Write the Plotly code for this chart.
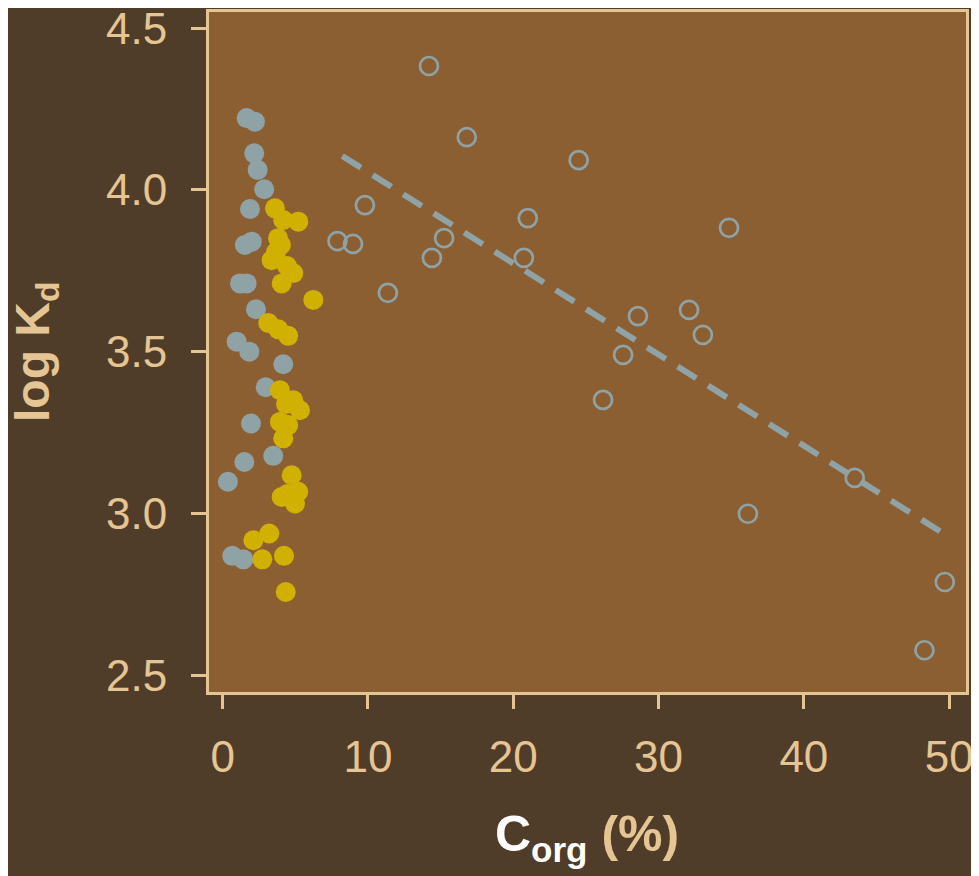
import plotly.graph_objects as go

# Filled blue-grey points (Corg %, log Kd)
blue_x = [1.65, 2.22, 2.17, 2.41, 2.86, 1.88, 2.00, 1.53, 1.65, 1.19, 2.29, 0.96,
          1.83, 4.17, 2.96, 1.95, 3.48, 1.49, 0.36, 0.66, 1.42]
blue_y = [4.222, 4.211, 4.113, 4.062, 4.002, 3.941, 3.840, 3.830, 3.711, 3.711, 3.631, 3.531,
          3.500, 3.461, 3.390, 3.278, 3.178, 3.159, 3.098, 2.869, 2.858]

# Filled yellow points
yellow_x = [3.60, 4.17, 5.20, 3.81, 4.01, 3.67, 3.37, 4.43, 4.86, 4.06, 6.24, 3.14,
            3.83, 4.51, 3.94, 4.86, 5.32, 4.36, 3.94, 4.51, 4.17, 4.75, 4.06, 5.20,
            4.98, 4.46, 3.21, 2.11, 2.73, 4.22, 4.34]
yellow_y = [3.943, 3.907, 3.902, 3.851, 3.830, 3.808, 3.783, 3.765, 3.743, 3.711, 3.660, 3.589,
            3.569, 3.549, 3.381, 3.350, 3.319, 3.338, 3.283, 3.273, 3.232, 3.118, 3.051, 3.067,
            3.031, 3.060, 2.938, 2.917, 2.858, 2.869, 2.757]

# Open circles
open_x = [14.2, 16.8, 24.5, 9.79, 21.0, 34.85, 7.9, 8.97, 15.24, 14.4, 20.73, 11.37,
          32.1, 28.58, 33.05, 27.56, 26.18, 43.5, 36.15, 49.7, 48.3]
open_y = [4.383, 4.163, 4.092, 3.953, 3.913, 3.883, 3.842, 3.833, 3.851, 3.790, 3.790, 3.682,
          3.629, 3.610, 3.552, 3.490, 3.351, 3.110, 2.999, 2.788, 2.577]

# Dashed trend line endpoints
fit_x = [8.23, 49.37]
fit_y = [4.105, 2.945]

x_ticks = [0, 10, 20, 30, 40, 50]
y_ticks = [2.5, 3.0, 3.5, 4.0, 4.5]
y_tick_labels = ["2.5", "3.0", "3.5", "4.0", "4.5"]

x_title = '<b><span style="color:white">C<sub>org</sub></span> (%)</b>'
y_title = "<b>log K<sub>d</sub></b>"

TAN = "#E6C594"
BG = "#503D29"
PLOT_BG = "#8C5F33"
BLUE = "#8FA2A5"
YELLOW = "#D0B000"
FONT = "Liberation Sans, Arial, sans-serif"

fig = go.Figure()
fig.add_trace(go.Scatter(x=fit_x, y=fit_y, mode="lines",
                         line=dict(color=BLUE, width=6, dash="22px,14px"),
                         hoverinfo="skip", showlegend=False))
fig.add_trace(go.Scatter(x=open_x, y=open_y, mode="markers",
                         marker=dict(symbol="circle-open", size=18, color=BLUE,
                                     line=dict(width=2.7, color=BLUE)),
                         showlegend=False))
fig.add_trace(go.Scatter(x=blue_x, y=blue_y, mode="markers",
                         marker=dict(symbol="circle", size=20, color=BLUE,
                                     line=dict(width=0)),
                         showlegend=False))
fig.add_trace(go.Scatter(x=yellow_x, y=yellow_y, mode="markers",
                         marker=dict(symbol="circle", size=20, color=YELLOW,
                                     line=dict(width=0)),
                         showlegend=False))

# The page shows the figure offset by the 8px body margin; compensate
OFF = 8
W, H = 979, 876
# desired plot-area edges in page pixels
LEFT, RIGHT, TOP, BOTTOM = 209, 966, 12, 692
PW, PH = RIGHT - LEFT, BOTTOM - TOP

fig.update_layout(
    width=W, height=H,
    margin=dict(l=LEFT - OFF, r=W - RIGHT + OFF, t=TOP - OFF, b=H - BOTTOM + OFF,
                autoexpand=False),
    paper_bgcolor=BG, plot_bgcolor=PLOT_BG,
    font=dict(family=FONT, color=TAN, size=44),
    xaxis=dict(range=[-0.94, 51.16], tickvals=x_ticks, showgrid=False, zeroline=False,
               automargin=False, ticklabeloverflow="allow",
               showline=True, mirror=True, linecolor=TAN, linewidth=3,
               ticks="outside", ticklen=14, tickwidth=3, tickcolor=TAN,
               ticklabelstandoff=10,
               tickfont=dict(size=44, color=TAN, family=FONT)),
    yaxis=dict(range=[2.448, 4.55], tickvals=y_ticks, ticktext=y_tick_labels,
               showgrid=False, zeroline=False, automargin=False,
               ticklabeloverflow="allow",
               showline=True, mirror=True, linecolor=TAN, linewidth=3,
               ticks="outside", ticklen=15, tickwidth=3, tickcolor=TAN,
               ticklabelstandoff=15,
               tickfont=dict(size=44, color=TAN, family=FONT)),
    annotations=[
        dict(text=x_title, xref="paper", yref="paper",
             x=(587 - LEFT) / PW, y=-(838 - BOTTOM) / PH,
             xanchor="center", yanchor="middle", showarrow=False,
             font=dict(size=50, color=TAN, family=FONT)),
        dict(text=y_title, xref="paper", yref="paper", textangle=-90,
             x=-(LEFT - 36) / PW, y=(BOTTOM - 352) / PH,
             xanchor="center", yanchor="middle", showarrow=False,
             font=dict(size=48, color=TAN, family=FONT)),
    ],
)

fig.write_html("out.html")
